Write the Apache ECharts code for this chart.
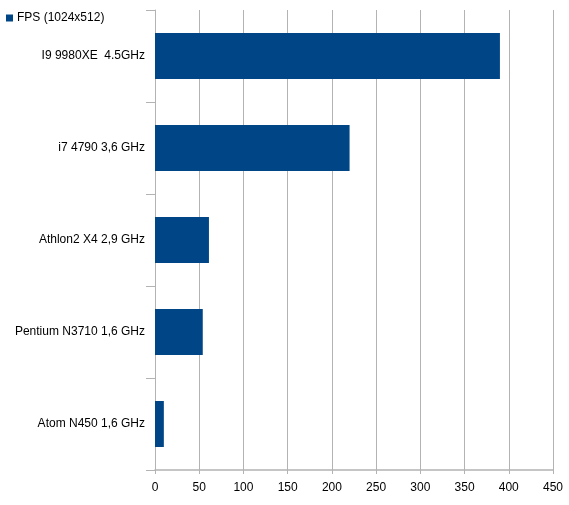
<!DOCTYPE html>
<html><head><meta charset="utf-8">
<script src="https://cdn.jsdelivr.net/npm/echarts@6/dist/echarts.min.js"></script>
<style>html,body{margin:0;padding:0;background:#fff}#c{width:569px;height:505px}</style>
</head><body><div id="c"></div>
<script>
const categories = ["I9 9980XE  4.5GHz", "i7 4790 3,6 GHz", "Athlon2 X4 2,9 GHz", "Pentium N3710 1,6 GHz", "Atom N450 1,6 GHz"];
const fpsValues = [390, 220, 61, 54, 10];
const seriesName = "FPS (1024x512)";
const xTicks = [0, 50, 100, 150, 200, 250, 300, 350, 400, 450];

const chart = echarts.init(document.getElementById('c'), null, {renderer: 'canvas'});
chart.setOption({
  animation: false,
  textStyle: {fontFamily: 'Liberation Sans'},
  legend: {
    left: 6, top: 12, padding: 0, itemWidth: 7, itemHeight: 7, itemGap: 4,
    icon: 'rect',
    textStyle: {fontSize: 12, color: '#000', fontFamily: 'Liberation Sans', padding: [0,0,0,-1]},
    data: [seriesName]
  },
  grid: {left: 155, right: 16, top: 10, bottom: 35, containLabel: false},
  xAxis: {
    type: 'value', min: xTicks[0], max: xTicks[xTicks.length-1], interval: 50,
    axisLine: {show: true, lineStyle: {color: '#b3b3b3', width: 1.5}},
    axisTick: {show: true, length: 4, lineStyle: {color: '#b3b3b3'}},
    splitLine: {show: true, lineStyle: {color: '#b3b3b3', width: 1}},
    axisLabel: {color: '#000', fontSize: 12, margin: 12, fontFamily: 'Liberation Sans'}
  },
  yAxis: {
    type: 'category', inverse: true, data: categories,
    axisLine: {show: true, lineStyle: {color: '#b3b3b3', width: 1}},
    axisTick: {show: true, length: 9, lineStyle: {color: '#b3b3b3'}},
    axisLabel: {color: '#000', fontSize: 12, margin: 10, fontFamily: 'Liberation Sans'}
  },
  series: [{
    name: seriesName, type: 'bar', data: fpsValues,
    barCategoryGap: '50%',
    itemStyle: {color: '#004586'}
  }]
});
</script></body></html>
